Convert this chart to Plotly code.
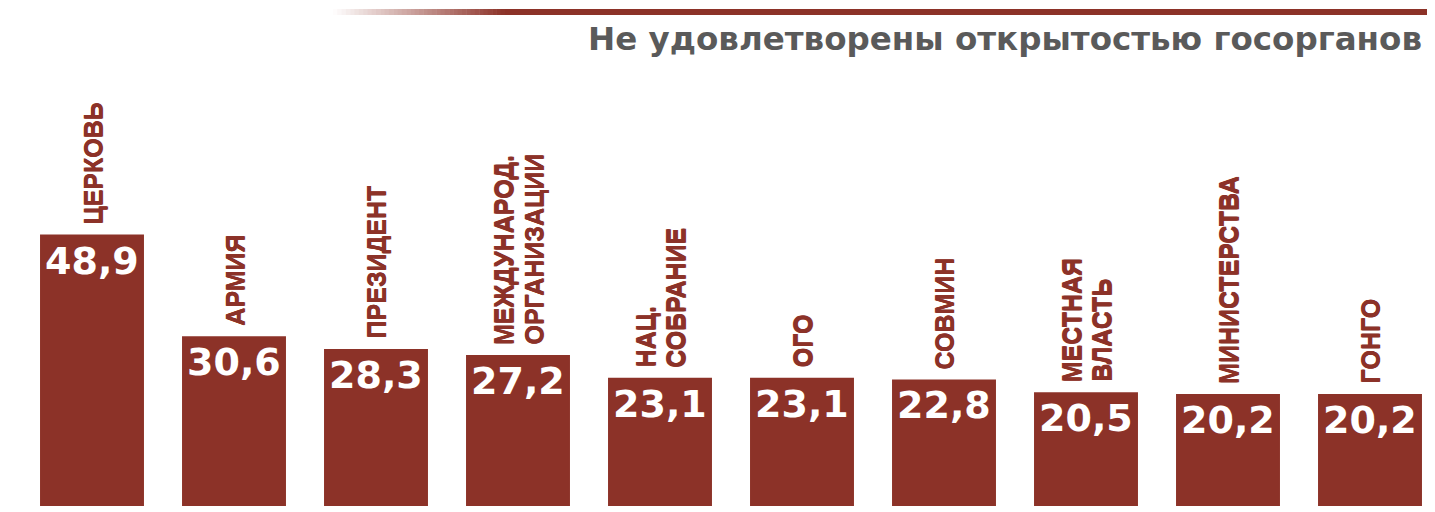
import plotly.graph_objects as go

categories = ["ЦЕРКОВЬ", "АРМИЯ", "ПРЕЗИДЕНТ", "МЕЖДУНАРОД.<br>ОРГАНИЗАЦИИ", "НАЦ.<br>СОБРАНИЕ",
              "ОГО", "СОВМИН", "МЕСТНАЯ<br>ВЛАСТЬ", "МИНИСТЕРСТВА", "ГОНГО"]
values = [48.9, 30.6, 28.3, 27.2, 23.1, 23.1, 22.8, 20.5, 20.2, 20.2]
value_labels = ["48,9", "30,6", "28,3", "27,2", "23,1", "23,1", "22,8", "20,5", "20,2", "20,2"]
title_text = "Не удовлетворены открытостью госорганов"

BAR = "#8c3228"
OFF = 8                      # page body margin offset
W, H = 1435 - OFF, 512 - OFF
MB = 6
PLOT_H = H - MB

xs = list(range(len(values)))

fig = go.Figure()
fig.add_trace(go.Bar(x=xs, y=values, width=0.732, marker=dict(color=BAR, line=dict(width=0)),
                     hoverinfo="skip"))

ann = []
LINE_GAP = 30
for x, v, lab, cat in zip(xs, values, value_labels, categories):
    ann.append(dict(x=x, y=v, xref="x", yref="y", text=lab, showarrow=False,
                    xanchor="center", yanchor="top", yshift=-2,
                    font=dict(family="DejaVu Sans", size=38, color="white", weight="bold")))
    lines = cat.split("<br>")
    k = len(lines)
    for j, ln in enumerate(lines):
        xs_shift = (j - (k - 1) / 2) * LINE_GAP + 1
        ann.append(dict(x=x, y=v, xref="x", yref="y", text=ln, showarrow=False,
                        textangle=-90, xanchor="center", yanchor="bottom", yshift=8,
                        xshift=xs_shift,
                        font=dict(family="Liberation Sans", size=25, color=BAR, weight="bold",
                                  shadow="0 0.8px 0 #8c3228, 0 -0.8px 0 #8c3228")))

ann.append(dict(x=(1424 - OFF) / W, y=(PLOT_H - (20 - OFF) + 2) / PLOT_H, xref="paper", yref="paper",
                text=title_text, showarrow=False, xanchor="right", yanchor="top",
                font=dict(family="DejaVu Sans", size=32.5, color="#5a5a5a", weight="bold")))

# gradient rule at top
shapes = []
x0, x1 = 333 - OFF, 505 - OFF
n = 40
r0, g0, b0 = 255, 255, 255
r1, g1, b1 = 140, 50, 40
y_top = (PLOT_H - (9 - OFF)) / PLOT_H
y_bot = (PLOT_H - (15 - OFF)) / PLOT_H
for i in range(n):
    t = (i + 0.5) / n
    c = "rgb(%d,%d,%d)" % (round(r0 + (r1 - r0) * t), round(g0 + (g1 - g0) * t), round(b0 + (b1 - b0) * t))
    xa = x0 + (x1 - x0) * i / n
    xb = x0 + (x1 - x0) * (i + 1) / n + 0.5
    shapes.append(dict(type="rect", xref="paper", yref="paper", x0=xa / W, x1=xb / W,
                       y0=y_bot, y1=y_top, fillcolor=c, line=dict(width=0), layer="below"))
shapes.append(dict(type="rect", xref="paper", yref="paper", x0=x1 / W, x1=1.0,
                   y0=y_bot, y1=y_top, fillcolor="rgb(140,50,40)", line=dict(width=0), layer="below"))

px_per_unit = 5.55
c0 = 92 - OFF
fig.update_layout(
    width=W, height=H,
    margin=dict(l=0, r=0, t=0, b=MB),
    paper_bgcolor="white", plot_bgcolor="white",
    showlegend=False,
    xaxis=dict(range=[-c0 / 142, (W - c0) / 142], visible=False, fixedrange=True),
    yaxis=dict(range=[0, PLOT_H / px_per_unit], visible=False, fixedrange=True),
    annotations=ann,
    shapes=shapes,
)

fig.write_html("out.html")
